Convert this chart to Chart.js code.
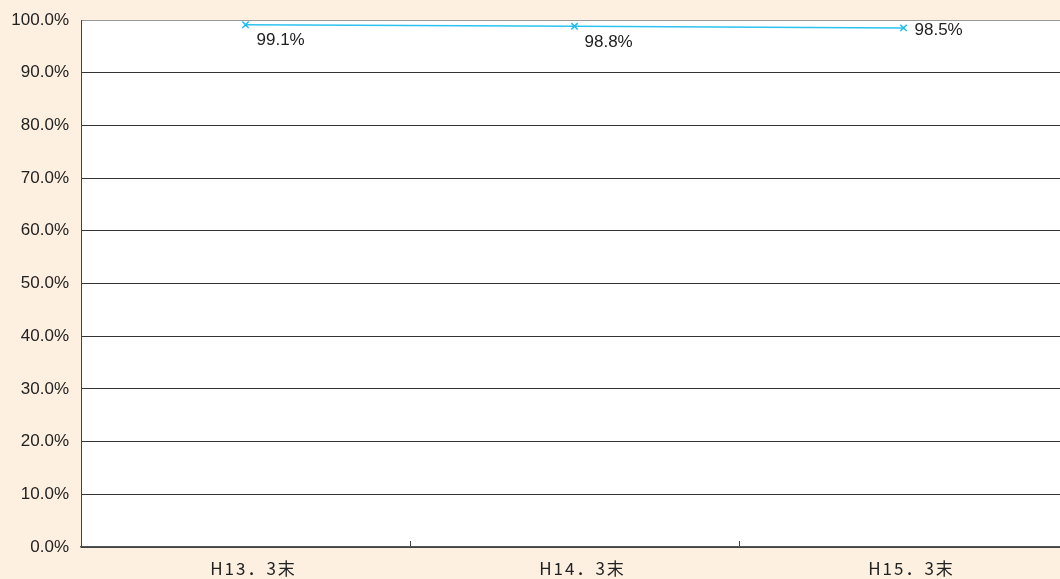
<!DOCTYPE html>
<html>
<head>
<meta charset="utf-8">
<script src="https://cdn.jsdelivr.net/npm/chart.js@4.4.0/dist/chart.umd.min.js"></script>
<style>
html, body { margin: 0; padding: 0; background: #fdf0e1; overflow: hidden; }
#wrap { width: 1074px; height: 579px; }
</style>
</head>
<body>
<div id="wrap"><canvas id="mycanvas"></canvas></div>
<script>
var categories = ['H13．3末', 'H14．3末', 'H15．3末'];
var rates = [99.1, 98.8, 98.5];
var yTicks = [0, 10, 20, 30, 40, 50, 60, 70, 80, 90, 100];

// where each value label sits relative to its point
var labelOffsets = [[11, 16], [10, 16], [11, 2]];

// category axis whose labels are drawn a little wider, like the original
class SpacedCategory extends Chart.CategoryScale {
	drawLabels(area) {
		this.ctx.save();
		this.ctx.letterSpacing = '2px';
		this.ctx.translate(8, 0);
		super.drawLabels(area);
		this.ctx.restore();
	}
}
SpacedCategory.id = 'spacedCategory';
SpacedCategory.defaults = Chart.CategoryScale.defaults;
Chart.register(SpacedCategory);

var plotBackground = {
	id: 'plotBackground',
	beforeDraw: function(chart) {
		var a = chart.chartArea, ctx = chart.ctx;
		ctx.save();
		ctx.fillStyle = '#ffffff';
		ctx.fillRect(a.left, a.top, a.right - a.left, a.bottom - a.top);
		ctx.restore();
	}
};

var valueLabels = {
	id: 'valueLabels',
	afterDatasetsDraw: function(chart) {
		var ctx = chart.ctx;
		var meta = chart.getDatasetMeta(0);
		ctx.save();
		ctx.font = '17px "Liberation Sans", Arial, sans-serif';
		ctx.fillStyle = '#222222';
		ctx.textAlign = 'left';
		ctx.textBaseline = 'middle';
		meta.data.forEach(function(pt, i) {
			ctx.fillText(rates[i].toFixed(1) + '%', pt.x + labelOffsets[i][0], pt.y + labelOffsets[i][1]);
		});
		ctx.restore();
	}
};

var ctx = document.getElementById('mycanvas');

var lineGraph = new Chart(ctx, {
	type: 'line',
	data: {
		labels: categories,
		datasets: [{
			label: '率',
			data: rates,
			borderColor: '#2cc3f0',
			backgroundColor: '#2cc3f0',
			borderWidth: 1.5,
			pointStyle: 'crossRot',
			pointRadius: 4.5,
			pointBorderWidth: 1.5,
			pointBorderColor: '#1ebcf0',
			tension: 0,
			fill: false
		}]
	},
	options: {
		responsive: true,
		maintainAspectRatio: false,
		animation: false,
		layout: { padding: { top: 20, left: 0, right: 0, bottom: 0 } },
		plugins: {
			legend: { display: false },
			tooltip: { enabled: false }
		},
		scales: {
			x: {
				type: 'spacedCategory',
				offset: true,
				grid: {
					offset: true,
					drawOnChartArea: false,
					drawTicks: true,
					tickLength: -6,
					color: '#444444'
				},
				border: { color: '#555555', width: 1.5 },
				ticks: {
					color: '#222222',
					padding: 17,
					font: { family: '"Noto Sans CJK JP", sans-serif', size: 17 }
				},
				afterFit: function(scale) { scale.height = 32; }
			},
			y: {
				min: 0,
				max: 100,
				afterBuildTicks: function(scale) {
					scale.ticks = yTicks.map(function(v) { return { value: v }; });
				},
				grid: {
					drawTicks: false,
					color: function(c) { return c.tick && c.tick.value === 100 ? '#999999' : '#333333'; },
					lineWidth: 1
				},
				border: { color: '#444444', width: 1 },
				ticks: {
					color: '#222222',
					padding: 12,
					font: { family: '"Liberation Sans", Arial, sans-serif', size: 17, lineHeight: 1 },
					callback: function(v) { return v.toFixed(1) + '%'; }
				},
				afterFit: function(scale) {
					scale.width = 81;
					scale.paddingTop = 0;
					scale.paddingBottom = 0;
				}
			}
		}
	},
	plugins: [plotBackground, valueLabels]
});
</script>
</body>
</html>
